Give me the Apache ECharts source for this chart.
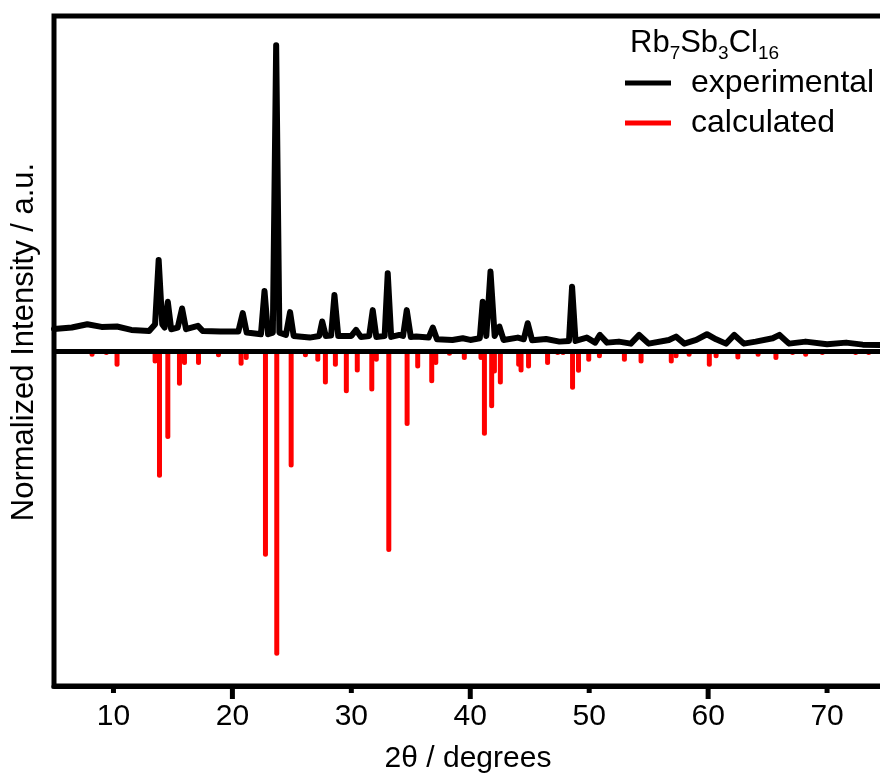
<!DOCTYPE html>
<html>
<head>
<meta charset="utf-8">
<script src="https://cdn.jsdelivr.net/npm/echarts@6/dist/echarts.min.js"></script>
<style>
html,body{margin:0;padding:0;background:#fff;}
#chart{width:880px;height:776px;}
</style>
</head>
<body>
<div id="chart"></div>
<script>
// Experimental pattern (2θ in degrees, normalized intensity)
var expTheta = [5.0, 6.5, 7.8, 9.0, 10.3, 11.5, 13.0, 13.5, 13.8, 14.1, 14.3, 14.57, 14.85, 15.4, 15.77, 16.1, 17.1, 17.5, 19.0, 20.5, 20.87, 21.2, 22.4, 22.7, 23.0, 23.4, 23.68, 23.95, 24.5, 24.85, 25.15, 26.5, 27.3, 27.55, 27.85, 28.3, 28.58, 28.9, 30.0, 30.4, 30.8, 31.5, 31.8, 32.1, 32.8, 33.06, 33.35, 34.04, 34.35, 34.66, 35.0, 35.45, 36.5, 36.85, 37.2, 38.5, 39.37, 40.0, 40.8, 41.05, 41.35, 41.7, 42.05, 42.45, 42.8, 44.0, 44.5, 44.83, 45.2, 46.38, 47.5, 48.3, 48.56, 48.85, 49.8, 50.5, 50.9, 51.5, 52.5, 53.5, 54.2, 55.0, 56.7, 57.3, 58.0, 59.0, 59.9, 60.67, 61.5, 62.2, 63.0, 64.0, 65.43, 66.0, 66.8, 68.2, 70.0, 71.6, 73.0, 75.0, 80.0];
var expIntensity = [6.6, 7.0, 8.0, 7.2, 7.3, 6.3, 6.0, 8.0, 27.2, 8.0, 7.0, 14.7, 6.5, 7.0, 12.7, 6.5, 7.5, 6.0, 5.8, 5.8, 11.3, 5.5, 5.0, 17.9, 5.0, 5.5, 91.3, 5.5, 4.8, 11.6, 4.5, 4.0, 4.5, 8.8, 4.5, 4.6, 16.7, 4.5, 4.5, 6.3, 4.2, 4.5, 12.2, 4.2, 4.5, 23.2, 4.2, 4.8, 4.5, 12.2, 4.2, 4.3, 4.0, 7.0, 3.5, 3.3, 3.8, 3.3, 3.8, 14.7, 4.5, 23.7, 4.5, 7.3, 3.3, 4.0, 3.5, 8.3, 3.2, 3.6, 2.8, 3.0, 19.2, 3.0, 4.0, 2.5, 4.8, 2.5, 2.8, 2.2, 4.8, 2.2, 3.3, 4.3, 2.2, 3.3, 5.0, 3.5, 2.2, 4.8, 2.2, 2.8, 3.8, 4.8, 2.2, 2.8, 2.0, 2.5, 1.9, 1.8, 1.8];

// Calculated reflections (2θ, plotted downward)
var calcTheta = [8.2, 9.4, 10.3, 13.0, 13.5, 13.87, 14.57, 15.55, 15.97, 17.15, 18.83, 20.73, 21.16, 22.78, 23.73, 24.94, 26.14, 27.18, 27.82, 28.66, 29.58, 30.5, 31.72, 32.1, 33.15, 34.69, 35.58, 36.76, 37.1, 38.25, 39.5, 40.9, 41.19, 41.8, 42.03, 42.53, 44.07, 44.27, 44.9, 46.5, 47.35, 47.8, 48.6, 49.1, 49.96, 50.86, 52.96, 54.36, 56.9, 57.3, 58.4, 60.1, 60.67, 62.5, 64.2, 65.7, 67.1, 68.2, 69.6, 72.4, 73.5];
var calcIntensity = [-1.7, -1.2, -4.7, -0.8, -3.7, -37.8, -26.3, -10.4, -4.2, -4.2, -1.9, -4.4, -2.7, -61.4, -91.0, -34.8, -1.9, -3.2, -10.0, -4.7, -12.6, -6.4, -12.1, -3.2, -60.0, -22.4, -5.2, -9.6, -4.2, -1.4, -2.7, -2.7, -25.3, -17.1, -6.7, -10.0, -4.7, -6.4, -5.2, -4.2, -1.2, -1.2, -11.6, -6.5, -3.2, -2.2, -3.2, -3.7, -3.7, -2.2, -1.7, -4.7, -2.2, -2.5, -1.7, -2.7, -1.2, -1.7, -1.2, -1.2, -1.2];

var xLabelValues = [10, 20, 30, 40, 50, 60, 70];
var xMajorTicks = [20, 40, 60];
var xMinorTicks = [10, 30, 50, 70];

var FONT = '"Liberation Sans", Arial, sans-serif';
var Y_MIN = -100, Y_MAX = 100;
var MAJOR_LEN = 13, MINOR_LEN = 7, TICK_STRIP = 14;

var expData = expTheta.map(function (t, i) { return [t, expIntensity[i]]; });
var calcData = calcTheta.map(function (t, i) { return [t, calcIntensity[i]]; });
var majorTickData = xMajorTicks.map(function (v) { return [v, MAJOR_LEN]; });
var minorTickData = xMinorTicks.map(function (v) { return [v, MINOR_LEN]; });

var chart = echarts.init(document.getElementById('chart'), null, {renderer: 'canvas'});
chart.setOption({
  animation: false,
  backgroundColor: '#fff',
  title: {
    left: 630, top: 23, padding: 0,
    text: '{a|Rb}{b|7}{a|Sb}{b|3}{a|Cl}{b|16}',
    textStyle: {
      fontWeight: 'normal',
      rich: {
        a: {fontSize: 31, lineHeight: 40, color: '#000', fontFamily: FONT, fontWeight: 'normal'},
        b: {fontSize: 19, lineHeight: 13, color: '#000', fontFamily: FONT, fontWeight: 'normal', verticalAlign: 'bottom'}
      }
    }
  },
  legend: {
    orient: 'vertical', left: 625, top: 67, padding: 0,
    itemWidth: 46, itemHeight: 5, itemGap: 8, icon: 'rect',
    data: ['experimental', 'calculated'],
    textStyle: {fontSize: 32, lineHeight: 32, color: '#000', fontFamily: FONT, padding: [0, 0, 0, 15]}
  },
  grid: [{
    left: 54, top: 16, width: 892, height: 670,
    outerBoundsMode: 'none', containLabel: false,
    show: true, borderColor: '#000', borderWidth: 5, backgroundColor: 'transparent'
  }, {
    left: 54, top: 686, width: 892, height: TICK_STRIP,
    outerBoundsMode: 'none', containLabel: false, show: false
  }],
  xAxis: [{
    type: 'value', min: 5, max: 80, position: 'bottom', gridIndex: 0,
    name: '2θ / degrees', nameLocation: 'middle', nameGap: 58,
    nameTextStyle: {fontSize: 30, color: '#000', fontFamily: FONT, padding: [0, 64, 0, 0]},
    axisLine: {show: true, onZero: false, lineStyle: {color: '#000', width: 5}},
    axisTick: {show: false},
    axisLabel: {show: true, customValues: xLabelValues, margin: 16, fontSize: 30, color: '#000', fontFamily: FONT},
    splitLine: {show: false}
  }, {
    type: 'value', min: 5, max: 80, gridIndex: 1, show: false,
    axisLine: {show: false, onZero: false}, axisTick: {show: false}, axisLabel: {show: false}, splitLine: {show: false}
  }],
  yAxis: [{
    type: 'value', min: Y_MIN, max: Y_MAX, gridIndex: 0,
    name: 'Normalized Intensity / a.u.', nameLocation: 'middle', nameGap: 14,
    nameTextStyle: {fontSize: 31, color: '#000', fontFamily: FONT, padding: [0, 0, 0, 18]},
    axisLine: {show: false, onZero: false}, axisTick: {show: false}, axisLabel: {show: false},
    splitLine: {show: false}
  }, {
    type: 'value', min: 0, max: TICK_STRIP, inverse: true, gridIndex: 1, show: false,
    axisLine: {show: false}, axisTick: {show: false}, axisLabel: {show: false}, splitLine: {show: false}
  }],
  series: [{
    name: 'calculated', type: 'bar', xAxisIndex: 0, yAxisIndex: 0,
    data: calcData, barWidth: 5,
    itemStyle: {color: '#ff0000', borderRadius: [0, 0, 2.5, 2.5]},
    z: 2
  }, {
    name: 'experimental', type: 'line', xAxisIndex: 0, yAxisIndex: 0,
    data: expData, showSymbol: false, symbol: 'none', sampling: null,
    lineStyle: {color: '#000', width: 6, join: 'round', cap: 'round'},
    itemStyle: {color: '#000'},
    markLine: {
      silent: true, symbol: 'none', animation: false,
      label: {show: false},
      lineStyle: {color: '#000', width: 5, type: 'solid'},
      data: [{yAxis: 0}]
    },
    z: 3
  }, {
    name: 'majorTicks', type: 'bar', xAxisIndex: 1, yAxisIndex: 1, silent: true,
    data: majorTickData, barWidth: 5, barGap: '-100%', itemStyle: {color: '#000'}
  }, {
    name: 'minorTicks', type: 'bar', xAxisIndex: 1, yAxisIndex: 1, silent: true,
    data: minorTickData, barWidth: 5, barGap: '-100%', itemStyle: {color: '#000'}
  }]
});
</script>
</body>
</html>
